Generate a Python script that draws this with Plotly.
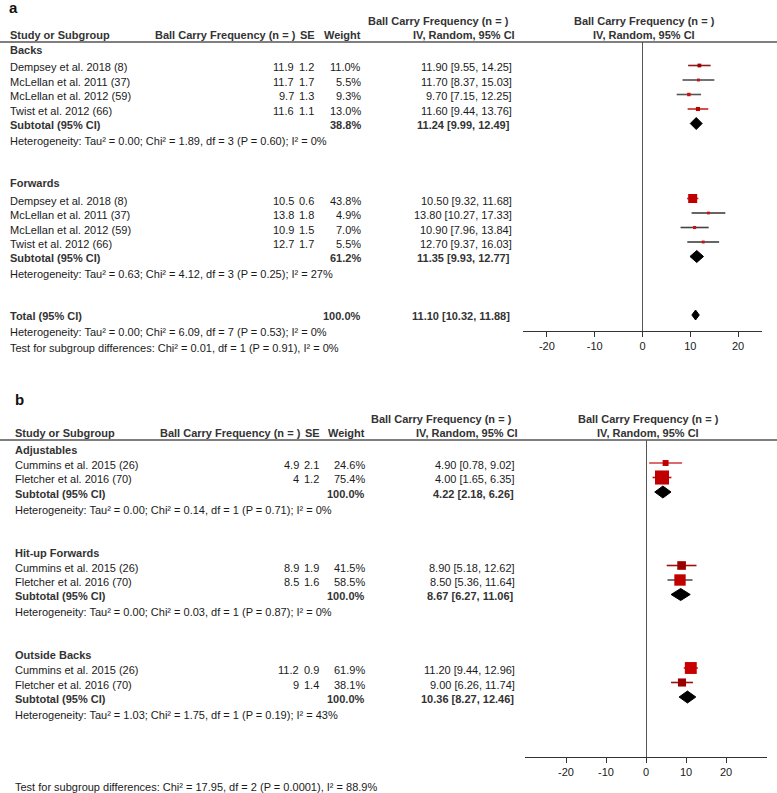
import plotly.graph_objects as go

W, H = 777, 793

# ---------------- Data: panel a ----------------
a_groups = ["Backs", "Forwards"]
a_studies = [
    ["Dempsey et al. 2018 (8)", "McLellan et al. 2011 (37)", "McLellan et al. 2012 (59)", "Twist et al. 2012 (66)"],
    ["Dempsey et al. 2018 (8)", "McLellan et al. 2011 (37)", "McLellan et al. 2012 (59)", "Twist et al. 2012 (66)"],
]
a_mean = [[11.9, 11.7, 9.7, 11.6], [10.5, 13.8, 10.9, 12.7]]
a_se = [[1.2, 1.7, 1.3, 1.1], [0.6, 1.8, 1.5, 1.7]]
a_weight = [[11.0, 5.5, 9.3, 13.0], [43.8, 4.9, 7.0, 5.5]]
a_lo = [[9.55, 8.37, 7.15, 9.44], [9.32, 10.27, 7.96, 9.37]]
a_hi = [[14.25, 15.03, 12.25, 13.76], [11.68, 17.33, 13.84, 16.03]]
a_sub_weight = [38.8, 61.2]
a_sub_est = [11.24, 11.35]
a_sub_lo = [9.99, 9.93]
a_sub_hi = [12.49, 12.77]
a_het = [
    "Heterogeneity: Tau² = 0.00; Chi² = 1.89, df = 3 (P = 0.60); I² = 0%",
    "Heterogeneity: Tau² = 0.63; Chi² = 4.12, df = 3 (P = 0.25); I² = 27%",
]
a_total_weight = 100.0
a_total_est = 11.10
a_total_lo = 10.32
a_total_hi = 11.88
a_total_het = "Heterogeneity: Tau² = 0.00; Chi² = 6.09, df = 7 (P = 0.53); I² = 0%"
a_test = "Test for subgroup differences: Chi² = 0.01, df = 1 (P = 0.91), I² = 0%"

# ---------------- Data: panel b ----------------
b_groups = ["Adjustables", "Hit-up Forwards", "Outside Backs"]
b_studies = [
    ["Cummins et al. 2015 (26)", "Fletcher et al. 2016 (70)"],
    ["Cummins et al. 2015 (26)", "Fletcher et al. 2016 (70)"],
    ["Cummins et al. 2015 (26)", "Fletcher et al. 2016 (70)"],
]
b_mean = [[4.9, 4.0], [8.9, 8.5], [11.2, 9.0]]
b_se = [[2.1, 1.2], [1.9, 1.6], [0.9, 1.4]]
b_weight = [[24.6, 75.4], [41.5, 58.5], [61.9, 38.1]]
b_lo = [[0.78, 1.65], [5.18, 5.36], [9.44, 6.26]]
b_hi = [[9.02, 6.35], [12.62, 11.64], [12.96, 11.74]]
b_sub_weight = [100.0, 100.0, 100.0]
b_sub_est = [4.22, 8.67, 10.36]
b_sub_lo = [2.18, 6.27, 8.27]
b_sub_hi = [6.26, 11.06, 12.46]
b_het = [
    "Heterogeneity: Tau² = 0.00; Chi² = 0.14, df = 1 (P = 0.71); I² = 0%",
    "Heterogeneity: Tau² = 0.00; Chi² = 0.03, df = 1 (P = 0.87); I² = 0%",
    "Heterogeneity: Tau² = 1.03; Chi² = 1.75, df = 1 (P = 0.19); I² = 43%",
]
b_test = "Test for subgroup differences: Chi² = 17.95, df = 2 (P = 0.0001), I² = 88.9%"

col_header = "Ball Carry Frequency (n = )"
ci_header = "IV, Random, 95% CI"
tick_vals = [-20, -10, 0, 10, 20]
tick_text = ["-20", "-10", "0", "10", "20"]

# ---------------- Styles ----------------
FONT = "Liberation Sans, Arial, Helvetica, sans-serif"
TXT = "#1a1a1a"
HDR = "#333333"
a_line_colors = [["#8b1a1a", "#444444", "#555555", "#cc2222"], ["#cc2222", "#333333", "#444444", "#333333"]]
a_mark_colors = [["#a00000", "#cc1111", "#cc1111", "#bb0000"], ["#c00000", "#cc1111", "#cc1111", "#cc1111"]]
b_line_colors = [["#d03a3a", "#b01010"], ["#9b1010", "#555555"], ["#c02020", "#9b1010"]]
b_mark_colors = [["#c00000", "#c00000"], ["#9b0000", "#c00000"], ["#c80000", "#9b0000"]]

fig = go.Figure()
annots = []
shapes = []


def px(x):
    return x / W


def py(y):
    return 1 - y / H


def text(x, y, s, anchor="left", size=11, bold=False, color=TXT):
    annots.append(dict(
        x=px(x), y=py(y), xref="paper", yref="paper",
        text=("<b>%s</b>" % s) if bold else s,
        showarrow=False, xanchor=anchor, yanchor="middle",
        font=dict(family=FONT, size=size, color=color), borderpad=0,
    ))


def fmt_ci(e, lo, hi):
    return "%.2f [%.2f, %.2f]" % (e, lo, hi)


def diamond(xa, ya, e, lo, hi, y, unit_px, hh=6.0, min_half_px=3.5):
    half_min = min_half_px / unit_px
    l = min(lo, e - half_min)
    r = max(hi, e + half_min)
    fig.add_trace(go.Scatter(
        x=[l, e, r, e, l], y=[y, y - hh, y, y + hh, y], mode="lines",
        fill="toself", fillcolor="black", line=dict(color="black", width=1),
        xaxis=xa, yaxis=ya, hoverinfo="skip", showlegend=False))


def study_mark(xa, ya, m, lo, hi, w, y, lc, mc):
    fig.add_trace(go.Scatter(
        x=[lo, hi], y=[y, y], mode="lines", line=dict(color=lc, width=1.6),
        xaxis=xa, yaxis=ya, hoverinfo="skip", showlegend=False))
    fig.add_trace(go.Scatter(
        x=[m], y=[y], mode="markers",
        marker=dict(symbol="square", size=2 + 0.16 * w, color=mc, line=dict(width=0)),
        xaxis=xa, yaxis=ya, hoverinfo="skip", showlegend=False))


def panel(P, groups, studies, mean, se, weight, lo, hi, sw, se_, slo, shi, het, lcols, mcols):
    xa, ya = P["xa"], P["ya"]
    unit = (P["x_right"] - P["x_left"]) / (P["xrange"][1] - P["xrange"][0])
    # labels & headers
    text(P["lab_x"], P["lab_y"], P["label"], size=P["lab_size"], bold=True, color="#111")
    text(P["hdr1_r"], P["hdr_y1"], col_header, anchor="right", bold=True, color=HDR)
    text(P["hdr2_r"], P["hdr_y2"], ci_header, anchor="right", bold=True, color=HDR)
    text(P["rhdr_c"], P["hdr_y1"], col_header, anchor="center", bold=True, color=HDR)
    text(P["rhdr_c"], P["hdr_y2"], ci_header, anchor="center", bold=True, color=HDR)
    text(P["xl"], P["hdr_y2"], "Study or Subgroup", bold=True, color=HDR)
    text(P["mean_r"] + 2, P["hdr_y2"], col_header, anchor="right", bold=True, color=HDR)
    text(P["se_r"] + 1, P["hdr_y2"], "SE", anchor="right", bold=True, color=HDR)
    text(P["w_r"], P["hdr_y2"], "Weight", anchor="right", bold=True, color=HDR)
    shapes.append(dict(type="line", xref="paper", yref="paper", x0=0, x1=1,
                       y0=py(P["line_y"]), y1=py(P["line_y"]),
                       line=dict(color="#555555", width=1.5)))
    y = P["first_y"]
    last = y
    for g in range(len(groups)):
        text(P["xl"], y, groups[g], bold=True, color=HDR)
        ys = y + P["first_gap"]
        for i in range(len(studies[g])):
            text(P["xl"], ys, studies[g][i])
            text(P["mean_r"], ys, "%g" % mean[g][i], anchor="right")
            text(P["se_r"], ys, "%g" % se[g][i], anchor="right")
            text(P["w_r"], ys, "%.1f%%" % weight[g][i], anchor="right")
            text(P["ci_r"], ys, fmt_ci(mean[g][i], lo[g][i], hi[g][i]), anchor="right")
            study_mark(xa, ya, mean[g][i], lo[g][i], hi[g][i], weight[g][i], ys - 2,
                       lcols[g][i], mcols[g][i])
            last = ys
            ys += P["row"]
        ysub = last + P["sub_gap"]
        text(P["xl"], ysub, "Subtotal (95% CI)", bold=True, color=HDR)
        text(P["w_r"], ysub, "%.1f%%" % sw[g], anchor="right", bold=True, color=HDR)
        text(P["sub_ci_r"], ysub, fmt_ci(se_[g], slo[g], shi[g]), anchor="right", bold=True, color=HDR)
        diamond(xa, ya, se_[g], slo[g], shi[g], ysub - 1.5, unit)
        yhet = ysub + P["het_gap"]
        text(P["xl"], yhet, het[g])
        y = yhet + P["group_gap"]
    return y, unit


A = dict(xa="x", ya="y", label="a", lab_x=8, lab_y=7, lab_size=15,
         hdr1_r=510, hdr2_r=516, hdr_y1=21, hdr_y2=35, rhdr_c=644, xl=9,
         mean_r=295, se_r=315, w_r=362, ci_r=513, sub_ci_r=511, line_y=42,
         axis_y=331, x_left=523, x_right=762, xrange=(-25, 25),
         first_y=50, first_gap=17.5, row=14.5, sub_gap=14, het_gap=16, group_gap=42)
B = dict(xa="x2", ya="y2", label="b", lab_x=14, lab_y=399, lab_size=15,
         hdr1_r=513, hdr2_r=519, hdr_y1=419, hdr_y2=433, rhdr_c=648, xl=14,
         mean_r=300, se_r=320, w_r=366, ci_r=516, sub_ci_r=515, line_y=440,
         axis_y=757, x_left=525, x_right=767, xrange=(-30.25, 30.25),
         first_y=450, first_gap=15, row=14.5, sub_gap=14, het_gap=16, group_gap=43)

ya_next, unit_a = panel(A, a_groups, a_studies, a_mean, a_se, a_weight, a_lo, a_hi,
                        a_sub_weight, a_sub_est, a_sub_lo, a_sub_hi, a_het,
                        a_line_colors, a_mark_colors)
# total row for panel a
yt = ya_next
text(A["xl"], yt, "Total (95% CI)", bold=True, color=HDR)
text(A["w_r"], yt, "%.1f%%" % a_total_weight, anchor="right", bold=True, color=HDR)
text(A["sub_ci_r"], yt, fmt_ci(a_total_est, a_total_lo, a_total_hi), anchor="right", bold=True, color=HDR)
diamond("x", "y", a_total_est, a_total_lo, a_total_hi, yt - 1, unit_a, hh=5)
text(A["xl"], yt + 16, a_total_het)
text(A["xl"], yt + 32, a_test)

panel(B, b_groups, b_studies, b_mean, b_se, b_weight, b_lo, b_hi,
      b_sub_weight, b_sub_est, b_sub_lo, b_sub_hi, b_het, b_line_colors, b_mark_colors)
text(B["xl"], 787, b_test)


def xaxis_cfg(P):
    return dict(domain=[px(P["x_left"]), px(P["x_right"])], range=list(P["xrange"]),
                anchor=P["ya"], showline=True, linecolor="#333333", linewidth=1,
                ticks="outside", ticklen=5, tickcolor="#333333", tickwidth=1,
                tickvals=tick_vals, ticktext=tick_text,
                tickfont=dict(family=FONT, size=11, color=TXT),
                showgrid=False, zeroline=True, zerolinecolor="#555555", zerolinewidth=1.3,
                fixedrange=True)


def yaxis_cfg(P):
    return dict(domain=[py(P["axis_y"]), py(P["line_y"])], range=[P["axis_y"], P["line_y"]],
                anchor=P["xa"], visible=False, showgrid=False, zeroline=False, fixedrange=True)


fig.update_layout(
    width=W, height=H, margin=dict(l=0, r=0, t=0, b=0),
    paper_bgcolor="white", plot_bgcolor="rgba(0,0,0,0)",
    xaxis=xaxis_cfg(A), yaxis=yaxis_cfg(A),
    xaxis2=xaxis_cfg(B), yaxis2=yaxis_cfg(B),
    annotations=annots, shapes=shapes, showlegend=False,
    font=dict(family=FONT, size=11, color=TXT),
)

fig.write_html("out.html", config={"displayModeBar": False},
               post_script="document.body.style.margin='0';document.body.style.overflow='hidden';")
